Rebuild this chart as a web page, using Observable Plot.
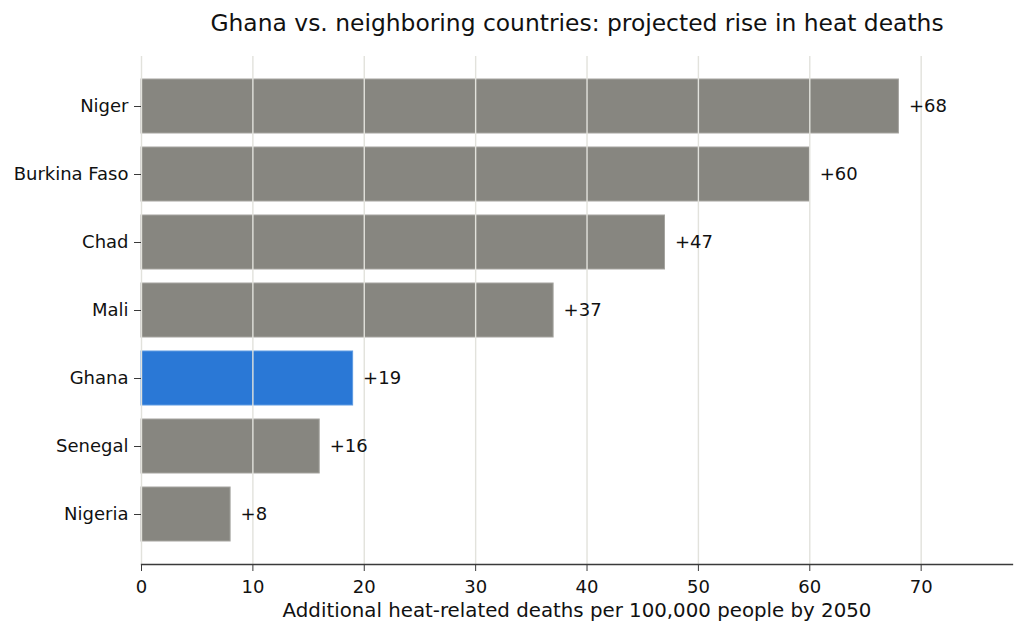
<!DOCTYPE html>
<html>
<head>
<meta charset="utf-8">
<script src="https://cdn.jsdelivr.net/npm/d3@7"></script>
<script src="https://cdn.jsdelivr.net/npm/@observablehq/plot@0.6"></script>
<style>
  html, body { margin: 0; padding: 0; background: #fff; }
  svg { display: block; }
</style>
</head>
<body>
<div id="chart"></div>
<script>
const countries = ["Niger", "Burkina Faso", "Chad", "Mali", "Ghana", "Senegal", "Nigeria"];
const values = [68, 60, 47, 37, 19, 16, 8];
const highlight = "Ghana";
const xTicks = [0, 10, 20, 30, 40, 50, 60, 70];
const title = "Ghana vs. neighboring countries: projected rise in heat deaths";
const xLabel = "Additional heat-related deaths per 100,000 people by 2050";

const data = countries.map((c, i) => ({country: c, value: values[i], label: "+" + values[i]}));
const font = "DejaVu Sans, sans-serif";
const ink = "#111";

const chart = Plot.plot({
  width: 1024,
  height: 635,
  marginTop: 56,
  marginBottom: 71,
  marginLeft: 141,
  marginRight: 12,
  style: {fontFamily: font, fontSize: "18px", color: ink, background: "#fff"},
  x: {domain: [0, 68 * 1.15], ticks: xTicks, label: null},
  y: {domain: countries, paddingInner: 0.2, paddingOuter: 0.335, label: null},
  marks: [
    Plot.barX(data, {
      y: "country", x: "value",
      fill: d => d.country === highlight ? "#2a78d6" : "#878680",
      stroke: d => d.country === highlight ? "#5d9ae2" : "#a5a49f",
      strokeWidth: 1
    }),
    Plot.gridX(xTicks, {stroke: "#e2e2dc", strokeOpacity: 1, strokeWidth: 1.4}),
    Plot.frame({anchor: "bottom", stroke: "#3a3a3a", strokeWidth: 1.3}),
    Plot.axisX(xTicks, {tickSize: 7, tickPadding: 9, stroke: "#3a3a3a", fill: ink, fontSize: 18, label: null}),
    Plot.axisY({tickSize: 7, tickPadding: 6, stroke: "#3a3a3a", fill: ink, fontSize: 18, label: null}),
    Plot.text(data, {y: "country", x: "value", text: "label", textAnchor: "start", dx: 10, fontSize: 18, fill: ink}),
    Plot.text([xLabel], {frameAnchor: "bottom", lineAnchor: "middle", dy: 46, fontSize: 19.8, fill: ink}),
    Plot.text([title], {frameAnchor: "top", lineAnchor: "middle", dy: -33, fontSize: 23.4, fill: ink})
  ]
});
document.getElementById("chart").appendChild(chart);
</script>
</body>
</html>
